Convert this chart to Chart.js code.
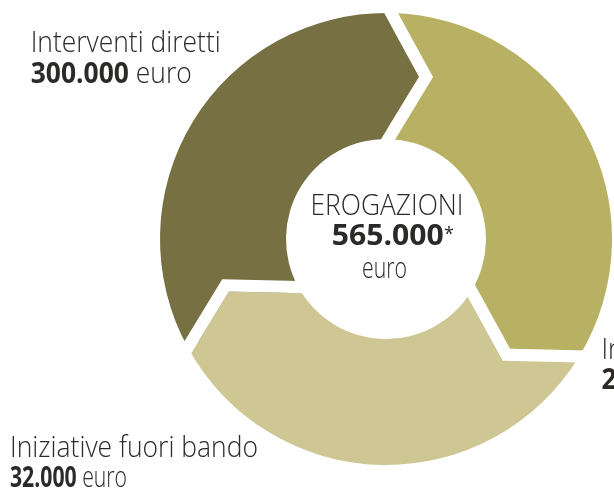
<!DOCTYPE html>
<html>
<head>
<meta charset="utf-8">
<script src="https://cdn.jsdelivr.net/npm/chart.js@4.4.1/dist/chart.umd.min.js"></script>
<style>
  html, body { margin: 0; padding: 0; background: #fff; }
  #chart { display: block; }
</style>
</head>
<body>
<canvas id="chart" width="614" height="490"></canvas>
<script>
// Erogazioni: clockwise from the top
const categories = ['Iniziative a bando', 'Iniziative fuori bando', 'Interventi diretti'];
const amounts = [233000, 32000, 300000];
// the infographic draws three equal sectors (degrees)
const sectorDegrees = [120, 120, 120];
const colors = ['#b8b063', '#cec794', '#767043'];
const totalTitle = 'EROGAZIONI';
const totalAmount = 565000;
const unit = 'euro';

const fmt = n => String(n).replace(/\B(?=(\d{3})+(?!\d))/g, '.');
const ink = '#2b2a29';
const face = '"Open Sans", "DejaVu Sans", sans-serif';

// white chevron gaps between sectors, the tip pointing clockwise
const chevronGaps = {
  id: 'chevronGaps',
  afterDatasetsDraw(chart) {
    const ctx = chart.ctx;
    const arcs = chart.getDatasetMeta(0).data;
    const gap = 14;
    const slope = Math.tan(Math.PI / 6);
    const shapes = arcs.map((arc, i) => {
      const p = arc.getProps(['x', 'y', 'startAngle', 'innerRadius', 'outerRadius'], true);
      const u = [Math.cos(p.startAngle), Math.sin(p.startAngle)];
      const v = [-Math.sin(p.startAngle), Math.cos(p.startAngle)];
      const pt = (r, s) => [p.x + u[0] * r + v[0] * s, p.y + u[1] * r + v[1] * s];
      const mid = (p.innerRadius + p.outerRadius) / 2;
      const tip = (p.outerRadius - p.innerRadius) / 2 * slope;
      const ext = 4;
      const edge = s => [
        pt(p.outerRadius + ext, s - ext * slope),
        pt(mid, s + tip),
        pt(p.innerRadius - ext, s - ext * slope)
      ];
      const prevColor = colors[(i + arcs.length - 1) % arcs.length];
      return {pt, mid, tip, edge, prevColor, p};
    });
    const poly = (pts, color) => {
      ctx.beginPath();
      pts.forEach((q, k) => k ? ctx.lineTo(q[0], q[1]) : ctx.moveTo(q[0], q[1]));
      ctx.closePath();
      ctx.fillStyle = color;
      ctx.fill();
    };
    ctx.save();
    shapes.forEach(s => {
      poly([s.pt(s.p.outerRadius, -gap / 2), s.pt(s.mid, -gap / 2 + s.tip), s.pt(s.p.innerRadius, -gap / 2)], s.prevColor);
    });
    shapes.forEach(s => {
      poly(s.edge(-gap / 2).concat(s.edge(gap / 2).reverse()), '#fff');
    });
    ctx.restore();
  }
};

// text blocks drawn with a slightly condensed face
function drawRuns(ctx, runs, x, y, align, width) {
  let natural = 0;
  runs.forEach(r => { ctx.font = r.font; r.w = ctx.measureText(r.text).width; natural += r.w; });
  const k = width ? width / natural : 0.9;
  const x0 = align === 'center' ? x - natural * k / 2 : x;
  ctx.save();
  ctx.translate(x0, y);
  ctx.scale(k, 1);
  ctx.fillStyle = ink;
  ctx.textBaseline = 'alphabetic';
  ctx.textAlign = 'left';
  let cx = 0;
  runs.forEach(r => { ctx.font = r.font; ctx.fillText(r.text, cx, 0); cx += r.w; });
  ctx.restore();
}

const light = `300 29px ${face}`;
const bold = `700 29px ${face}`;

const labelsText = {
  id: 'labelsText',
  afterDraw(chart) {
    const ctx = chart.ctx;
    // label anchors: [x, first baseline, width of name line, width of amount line]
    const anchors = [
      [601.5, 359, 0, 0],
      [10, 457, 248, 117],
      [30.7, 52.3, 190, 161]
    ];
    categories.forEach((name, i) => {
      const [x, y, w1, w2] = anchors[i];
      drawRuns(ctx, [{text: name, font: light}], x, y, 'left', w1);
      drawRuns(ctx, [{text: fmt(amounts[i]), font: bold}, {text: ' ' + unit, font: light}], x, y + 30.4, 'left', w2);
    });
    drawRuns(ctx, [{text: totalTitle, font: light}], 387, 215, 'center', 153);
    drawRuns(ctx, [{text: fmt(totalAmount), font: bold}], 331.7, 245, 'left', 112);
    drawRuns(ctx, [{text: '*', font: `400 18px ${face}`}], 444, 240, 'left', 10);
    drawRuns(ctx, [{text: unit, font: light}], 384.5, 277.5, 'center', 45);
  }
};

new Chart(document.getElementById('chart'), {
  type: 'doughnut',
  data: {
    labels: categories,
    datasets: [{
      data: sectorDegrees,
      backgroundColor: colors,
      borderWidth: 0,
      hoverOffset: 0
    }]
  },
  options: {
    responsive: false,
    devicePixelRatio: 1,
    animation: false,
    rotation: 1.3,
    cutout: 100,
    layout: { padding: { left: 160, right: 2, top: 13, bottom: 25 } },
    plugins: {
      legend: { display: false },
      tooltip: { enabled: false }
    },
    events: []
  },
  plugins: [chevronGaps, labelsText]
});
</script>
</body>
</html>
